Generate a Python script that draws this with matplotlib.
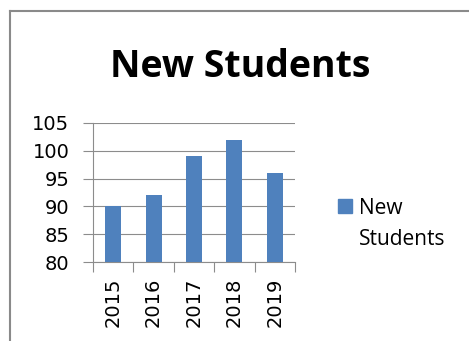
import numpy as np
import matplotlib.pyplot as plt
from matplotlib.lines import Line2D
from matplotlib.patches import Rectangle

years = ["2015", "2016", "2017", "2018", "2019"]
students = [90, 92, 99, 102, 96]
yticks = [80, 85, 90, 95, 100, 105]

W, H = 469, 341
bar_color = "#4F81BD"
grid_color = "#8c8c8c"

fig = plt.figure(figsize=(W / 100, H / 100), dpi=100)
fig.patch.set_facecolor("white")

# chart border (grey, runs off the right and bottom edges)
fig.add_artist(Line2D([10 / W, 1.01], [1 - 11 / H, 1 - 11 / H], transform=fig.transFigure,
                      color="#8a8a8a", lw=1.5))
fig.add_artist(Line2D([10 / W, 10 / W], [1 - 11 / H, -0.01], transform=fig.transFigure,
                      color="#8a8a8a", lw=1.5))

ax = fig.add_axes([93 / W, 1 - 262 / H, (295 - 93) / W, (262 - 123) / H])
x = np.arange(len(years))
ax.bar(x, students, width=0.4, color=bar_color, zorder=3)

ax.set_ylim(80, 105)
ax.set_xlim(-0.5, len(years) - 0.5)
ax.set_yticks(yticks)
ax.set_yticklabels([str(v) for v in yticks], fontfamily="DejaVu Sans", fontsize=14)
ax.grid(axis="y", color=grid_color, lw=0.8, zorder=0)
ax.tick_params(axis="y", length=7, width=0.8, color=grid_color, pad=10)

ax.set_xticks(x)
ax.set_xticklabels(years, rotation=90, fontfamily="DejaVu Sans", fontsize=14)
ax.tick_params(axis="x", length=0, pad=11)
ax.set_xticks(np.arange(-0.5, len(years)), minor=True)
ax.tick_params(axis="x", which="minor", length=7, width=0.8, color=grid_color)

for s in ["top", "right"]:
    ax.spines[s].set_visible(False)
for s in ["left", "bottom"]:
    ax.spines[s].set_color(grid_color)
    ax.spines[s].set_linewidth(0.8)

fig.text(240 / W, 1 - 77 / H, "New Students", ha="center", va="baseline",
         fontfamily="Open Sans", fontweight="bold", fontsize=27)

# legend, square lined up with the first line of the label
fig.add_artist(Rectangle((338 / W, 1 - 213 / H), 14 / W, 14 / H,
                         transform=fig.transFigure, color=bar_color))
fig.text(359 / W, 1 - 245 / H, "New\nStudents", ha="left", va="baseline",
         fontfamily="Open Sans", fontsize=15, linespacing=1.65)

fig.savefig("out.png", dpi=100)
